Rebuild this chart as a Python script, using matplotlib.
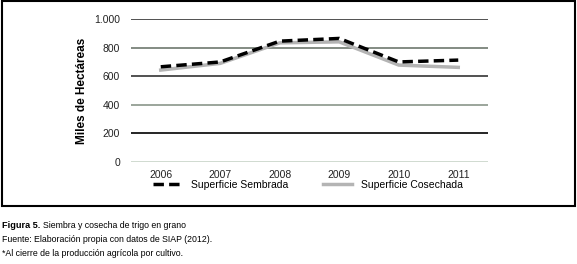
import matplotlib.pyplot as plt
from matplotlib.patches import Rectangle

plt.rcParams['font.family'] = ['Liberation Sans', 'DejaVu Sans']

years = ['2006', '2007', '2008', '2009', '2010', '2011']
sembrada = [666, 700, 846, 865, 700, 713]
cosechada = [643, 690, 834, 841, 678, 662]
yticks = [0, 200, 400, 600, 800, 1000]
ytick_labels = ['0', '200', '400', '600', '800', '1.000']
grid_colors = ['#c8d4c8', '#000000', '#8a968a', '#333333', '#6e786e', '#333333']

fig = plt.figure(figsize=(5.77, 2.64), dpi=100)
W, H = 577, 264
ax = fig.add_axes([131 / W, 1 - 161.7 / H, (488 - 131) / W, (161.7 - 19.2) / H])

x = list(range(len(years)))
for yv, c in zip(yticks, grid_colors):
    ax.axhline(yv, color=c, lw=1.2, zorder=0)
ax.plot(x, cosechada, color='#b4b4b4', lw=2.5, label='Superficie Cosechada', zorder=2)
ax.plot(x, sembrada, color='black', lw=2.5, ls=(0, (3, 1.5)), label='Superficie Sembrada', zorder=3)

ax.set_xlim(-0.5, 5.5)
ax.set_ylim(0, 1000)
ax.set_yticks(yticks)
ax.set_yticklabels(ytick_labels)
ax.set_xticks(x)
ax.set_xticklabels(years)
ax.tick_params(length=0, labelsize=7.5, colors='#222222')
ax.tick_params(axis='y', pad=8)
ax.tick_params(axis='x', pad=6)
for s in ax.spines.values():
    s.set_visible(False)
ax.set_ylabel('Miles de Hectáreas', fontsize=8.5, fontweight='bold', labelpad=4)
ax.set_facecolor('none')

h, l = ax.get_legend_handles_labels()
fig.legend([h[1], h[0]], [l[1], l[0]], loc='center', bbox_to_anchor=(308 / W, 1 - 185 / H),
           ncol=2, frameon=False, fontsize=7.5, handlelength=2.8, columnspacing=3.3,
           handletextpad=0.9)

fig.patches.append(Rectangle((1.5 / W, 1 - 206 / H), 573 / W, 205 / H, transform=fig.transFigure,
                             fill=False, edgecolor='black', lw=1.5))

fs = 6.3
t1 = fig.text(2 / W, 1 - 225 / H, 'Figura 5.', fontsize=fs + 0.3, fontweight='bold', va='center')
fig.canvas.draw()
bb = t1.get_window_extent()
fig.text((bb.x1 + 3) / W, 1 - 225 / H, 'Siembra y cosecha de trigo en grano', fontsize=fs, va='center')
fig.text(2 / W, 1 - 240 / H, 'Fuente: Elaboración propia con datos de SIAP (2012).', fontsize=fs, va='center')
fig.text(2 / W, 1 - 254 / H, '*Al cierre de la producción agrícola por cultivo.', fontsize=fs, va='center')

fig.savefig('out.png', dpi=100)
